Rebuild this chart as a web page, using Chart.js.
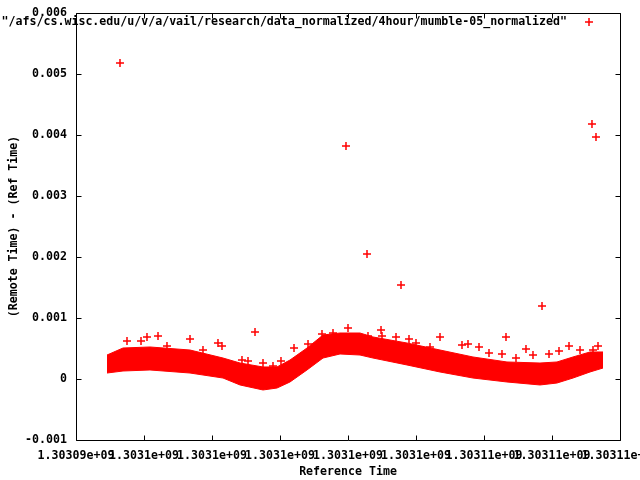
<!DOCTYPE html>
<html><head><meta charset="utf-8">
<script src="https://cdn.jsdelivr.net/npm/chart.js@4/dist/chart.umd.min.js"></script>
<style>html,body{margin:0;padding:0;background:#fff;}#wrap{width:640px;height:480px;}</style>
</head><body><div id="wrap"><canvas id="c" width="640" height="480"></canvas></div>
<script>
const seriesName = '"/afs/cs.wisc.edu/u/v/a/vail/research/data_normalized/4hour/mumble-05_normalized"';
const xTitle = 'Reference Time';
const yTitle = '(Remote Time) - (Ref Time)';
const xTickValues = [1303094000,1303096000,1303098000,1303100000,1303102000,1303104000,1303106000,1303108000,1303110000];
const xTickLabels = ['1.30309e+09','1.3031e+09','1.3031e+09','1.3031e+09','1.3031e+09','1.3031e+09','1.30311e+09','1.30311e+09','1.30311e+09'];
const yTickValues = [-0.001,0,0.001,0.002,0.003,0.004,0.005,0.006];
const yTickLabels = ['-0.001','0','0.001','0.002','0.003','0.004','0.005','0.006'];

// dense cloud of samples: upper and lower edge of the band
const bandTime = [1303094912,1303095382,1303096176,1303097353,1303098324,1303098824,1303099500,1303099912,1303100294,1303100794,1303101265,1303101765,1303102353,1303102735,1303103735,1303104706,1303105676,1303106676,1303107647,1303108147,1303108618,1303109118,1303109500];
const bandUpper = [0.000393,0.000508,0.000525,0.000475,0.000344,0.000262,0.000197,0.000197,0.000311,0.000508,0.000721,0.000754,0.000754,0.000689,0.000590,0.000475,0.000361,0.000279,0.000262,0.000279,0.000361,0.000443,0.000443];
const bandLower = [0.000098,0.000131,0.000148,0.000098,0.000016,-0.000098,-0.000180,-0.000148,-0.000049,0.000148,0.000344,0.000410,0.000393,0.000344,0.000230,0.000115,0.000016,-0.000049,-0.000098,-0.000066,0.000016,0.000115,0.000180];

// individual samples standing out of the band
const outlierTime = [1303095294,1303101941,1303102559,1303103559,1303107706,1303109176,1303109294,
  1303095500,1303095912,1303096088,1303096412,1303097353,1303098176,1303098294,1303099265,1303098882,1303099059,
  1303099500,1303099794,1303100029,1303100412,1303100824,1303101235,1303101559,1303102000,1303102588,1303102971,
  1303103000,1303103412,1303103794,1303104000,1303104412,1303104706,1303105353,1303105529,1303105853,1303106147,
  1303106529,1303106647,1303106941,1303107235,1303107441,1303107912,1303108206,1303108500,1303108824,1303109206,
  1303109353,1303096676,1303097735];
const outlierOffset = [0.005180,0.003820,0.002049,0.001541,0.001197,0.004180,0.003967,
  0.000623,0.000623,0.000689,0.000705,0.000656,0.000590,0.000541,0.000770,0.000311,0.000295,
  0.000262,0.000213,0.000295,0.000508,0.000574,0.000738,0.000754,0.000836,0.000705,0.000803,
  0.000705,0.000689,0.000656,0.000590,0.000525,0.000689,0.000557,0.000574,0.000525,0.000426,
  0.000410,0.000689,0.000344,0.000492,0.000393,0.000410,0.000459,0.000541,0.000475,0.000475,
  0.000541,0.000541,0.000475];

const RED = '#ff0000';
const FONT = {family: '"DejaVu Sans Mono", monospace', size: 11.6, weight: 'bold', lineHeight: 1.2};

const framePlugin = {
  id: 'frame',
  afterDatasetsDraw(chart) {
    const ctx = chart.ctx;
    const {left, right, top, bottom} = chart.chartArea;
    const xs = chart.scales.x, ys = chart.scales.y;
    ctx.save();
    ctx.strokeStyle = '#000';
    ctx.lineWidth = 1;
    ctx.beginPath();
    const L = Math.round(left) + 0.5, R = Math.round(right) + 0.5, T = Math.round(top) + 0.5, B = Math.round(bottom) + 0.5;
    ctx.rect(L, T, R - L, B - T);
    const tl = 5;
    xTickValues.forEach(v => {
      const p = Math.round(xs.getPixelForValue(v)) + 0.5;
      ctx.moveTo(p, B); ctx.lineTo(p, B - tl);
      ctx.moveTo(p, T); ctx.lineTo(p, T + tl);
    });
    yTickValues.forEach(v => {
      const p = Math.round(ys.getPixelForValue(v)) + 0.5;
      ctx.moveTo(L, p); ctx.lineTo(L + tl, p);
      ctx.moveTo(R, p); ctx.lineTo(R - tl, p);
    });
    ctx.stroke();
    // key
    ctx.font = 'bold 11.6px "DejaVu Sans Mono", monospace';
    ctx.fillStyle = '#000';
    ctx.textAlign = 'right';
    ctx.textBaseline = 'middle';
    ctx.fillText(seriesName, 567, 22);
    ctx.strokeStyle = RED;
    ctx.lineWidth = 1.5;
    ctx.beginPath();
    ctx.moveTo(585, 22); ctx.lineTo(593, 22);
    ctx.moveTo(589, 18); ctx.lineTo(589, 26);
    ctx.stroke();
    ctx.restore();
  }
};

new Chart(document.getElementById('c'), {
  type: 'scatter',
  data: {
    datasets: [
      {
        label: 'lower',
        data: bandTime.map((t, i) => ({x: t, y: bandLower[i]})),
        showLine: true, borderColor: RED, borderWidth: 1, pointRadius: 0, fill: false
      },
      {
        label: 'upper',
        data: bandTime.map((t, i) => ({x: t, y: bandUpper[i]})),
        showLine: true, borderColor: RED, borderWidth: 1, pointRadius: 0,
        backgroundColor: RED, fill: '-1'
      },
      {
        label: seriesName,
        data: outlierTime.map((t, i) => ({x: t, y: outlierOffset[i]})),
        pointStyle: 'cross', pointRadius: 4, pointBorderWidth: 1.5,
        borderColor: RED, backgroundColor: RED, borderWidth: 1.5
      }
    ]
  },
  options: {
    responsive: false,
    animation: false,
    devicePixelRatio: 1,
    layout: {padding: {left: 0, right: 20, top: 13, bottom: 0}},
    plugins: {legend: {display: false}, tooltip: {enabled: false}},
    scales: {
      x: {
        type: 'linear',
        min: xTickValues[0], max: xTickValues[xTickValues.length - 1],
        afterBuildTicks: s => { s.ticks = xTickValues.map(v => ({value: v})); },
        afterFit: s => { s.height = 40; s.paddingLeft = 0; s.paddingRight = 0; },
        grid: {display: false, drawTicks: false},
        border: {display: false},
        ticks: {
          autoSkip: false, maxRotation: 0, minRotation: 0, padding: 9,
          color: '#000', font: FONT,
          callback: (v, i) => xTickLabels[i]
        },
        title: {display: true, text: xTitle, color: '#000', font: FONT, padding: {top: 0, bottom: 1}}
      },
      y: {
        type: 'linear',
        min: yTickValues[0], max: yTickValues[yTickValues.length - 1],
        afterBuildTicks: s => { s.ticks = yTickValues.map(v => ({value: v})); },
        afterFit: s => { s.width = 76; s.paddingTop = 0; s.paddingBottom = 0; },
        grid: {display: false, drawTicks: false},
        border: {display: false},
        ticks: {
          autoSkip: false, padding: 9, color: '#000', font: FONT,
          callback: (v, i) => yTickLabels[i]
        },
        title: {display: true, text: yTitle, color: '#000', font: FONT, padding: {top: 7, bottom: 0}}
      }
    }
  },
  plugins: [framePlugin]
});
</script>
</body></html>
